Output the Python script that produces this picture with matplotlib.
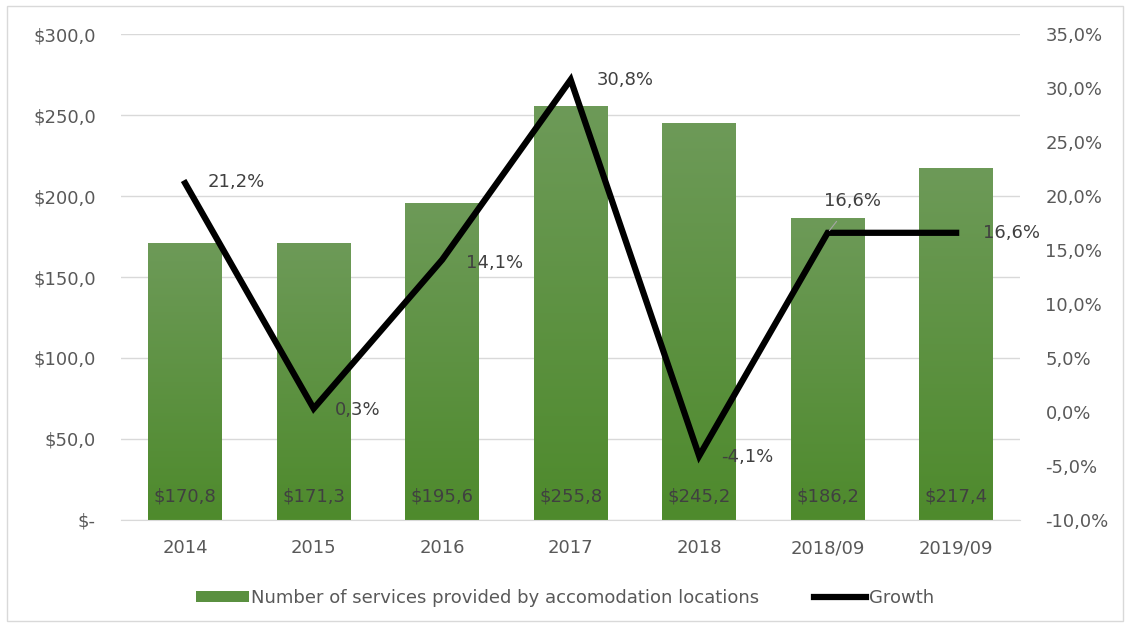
import matplotlib
matplotlib.use("Agg")
import matplotlib.pyplot as plt
import numpy as np
from matplotlib.lines import Line2D
from matplotlib.patches import Patch
from matplotlib.colors import LinearSegmentedColormap

categories = ["2014", "2015", "2016", "2017", "2018", "2018/09", "2019/09"]
services = [170.8, 171.3, 195.6, 255.8, 245.2, 186.2, 217.4]
growth = [21.2, 0.3, 14.1, 30.8, -4.1, 16.6, 16.6]

plt.rcParams['font.family'] = ['DejaVu Sans']
TXT = '#595959'
FS = 13

fig = plt.figure(figsize=(11.3, 6.26), dpi=100)
ax = fig.add_axes([0.107, 0.17, 0.796, 0.775])
ax2 = ax.twinx()

x = np.arange(len(categories))
bw = 0.575

# gradient bars
grad = np.linspace(0, 1, 256).reshape(-1, 1)
cmap = LinearSegmentedColormap.from_list('g', ['#4e8a2c', '#6d9a58'])
bars = ax.bar(x, services, width=bw, color='#5a9040', zorder=2)
for b in bars:
    bx, by = b.get_x(), b.get_y()
    w, h = b.get_width(), b.get_height()
    im = ax.imshow(grad, cmap=cmap, aspect='auto', origin='lower',
                   extent=[bx, bx + w, by, by + h], zorder=2)
    im.set_clip_path(b)
ax.set_aspect('auto')
ax.set_xlim(-0.5, len(categories) - 0.5)
ax.set_ylim(0, 300)

for xi, v in zip(x, services):
    ax.text(xi, 14, f"${v:.1f}".replace('.', ','), ha='center', va='center',
            fontsize=FS, color='#404040', zorder=3)

ax.set_yticks(np.arange(0, 301, 50))
ax.set_yticklabels(["$-" if t == 0 else f"${t:.1f}".replace('.', ',') for t in np.arange(0, 301, 50)])
ax.yaxis.grid(True, color='#d9d9d9', linewidth=1, zorder=0)
ax.set_axisbelow(True)
ax.set_xticks(x)
ax.set_xticklabels(categories)
ax.tick_params(axis='y', length=0, labelsize=FS, colors=TXT, pad=18)
ax.tick_params(axis='x', length=0, labelsize=FS, colors=TXT, pad=14)
for s in ax.spines.values():
    s.set_visible(False)
ax.spines['bottom'].set_visible(True)
ax.spines['bottom'].set_color('#d9d9d9')

ax2.set_ylim(-10, 35)
ax2.plot(x, growth, color='black', linewidth=4.5, zorder=4, solid_joinstyle='miter')
ax2.set_yticks(np.arange(-10, 36, 5))
ax2.set_yticklabels([f"{t:.1f}%".replace('.', ',') for t in np.arange(-10, 36, 5)])
ax2.tick_params(axis='y', length=0, labelsize=FS, colors=TXT, pad=18)
for s in ax2.spines.values():
    s.set_visible(False)

offsets = [(16, 1), (15, -1), (17, -2), (19, 0), (16, -1), (18, 23), (19, 0)]
for i, (xi, g, (dx, dy)) in enumerate(zip(x, growth, offsets)):
    txt = f"{g:.1f}%".replace('.', ',')
    if i == 5:
        ax2.annotate(txt, (xi, g), xytext=(dx, dy), textcoords='offset points',
                     ha='center', va='center', fontsize=FS, color='#404040', zorder=5,
                     arrowprops=dict(arrowstyle='-', color='#a6a6a6', lw=0.8,
                                     shrinkA=8, shrinkB=2))
    else:
        ax2.annotate(txt, (xi, g), xytext=(dx, dy), textcoords='offset points',
                     ha='left', va='center', fontsize=FS, color='#404040', zorder=5)

handles = [Patch(facecolor='#5a9040', edgecolor='none'),
           Line2D([0], [0], color='black', linewidth=4.5)]
fig.legend(handles, ["Number of services provided by accomodation locations", "Growth"],
           loc='center', bbox_to_anchor=(0.5, 0.045), ncol=2, frameon=False,
           fontsize=FS, labelcolor=TXT, handlelength=2.9, handleheight=0.6,
           handletextpad=0.15, columnspacing=3.0)

fig.patches.append(plt.Rectangle((0.006, 0.008), 0.988, 0.982, transform=fig.transFigure,
                                 fill=False, edgecolor='#d9d9d9', linewidth=1))

fig.savefig("out.png", dpi=100)
